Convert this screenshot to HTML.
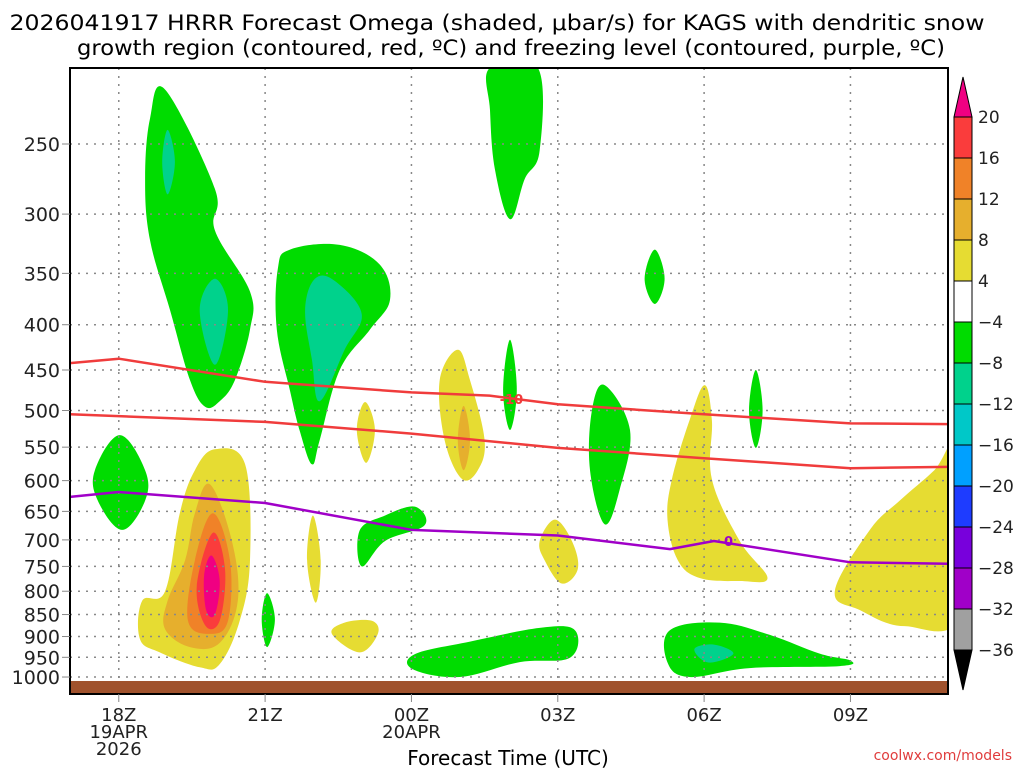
<!DOCTYPE html>
<html><head><meta charset="utf-8"><style>
html,body{margin:0;padding:0;background:#fff;}
svg{display:block;font-family:"DejaVu Sans","Liberation Sans",sans-serif;}
</style></head><body>
<svg id="chart" width="1024" height="768" viewBox="0 0 1024 768">
<text x="497" y="30" font-size="21" text-anchor="middle" textLength="975" lengthAdjust="spacingAndGlyphs" fill="#000">2026041917 HRRR Forecast Omega (shaded, μbar/s) for KAGS with dendritic snow</text>
<text x="511" y="55" font-size="21" text-anchor="middle" textLength="868" lengthAdjust="spacingAndGlyphs" fill="#000">growth region (contoured, red, ºC) and freezing level (contoured, purple, ºC)</text>
<g id="shades"></g>
<g id="grid"></g>
<g id="lines"></g>
<rect x="70" y="681" width="878" height="13" fill="#a0522d"/>
<rect x="70" y="68" width="878" height="626" fill="none" stroke="#000" stroke-width="2"/>
<g id="yaxis"></g>
<g id="xaxis"></g>
<text x="508" y="765" font-size="20" text-anchor="middle">Forecast Time (UTC)</text>
<text x="1012" y="760" font-size="14" text-anchor="end" fill="#e03c3c">coolwx.com/models</text>
<g id="cbar"></g>
</svg>
<script>
const NS="http://www.w3.org/2000/svg";
const X0=70,X1=948,Y0=68,Y1=694;
const HSTART=0,HEND=18; // hours from 17Z
const yTicks=[250,300,350,400,450,500,550,600,650,700,750,800,850,900,950,1000];
const xTickHours=[1,4,7,10,13,16];
const xTickLabels=[["18Z","19APR","2026"],["21Z"],["00Z","20APR"],["03Z"],["06Z"],["09Z"]];
const cbLabels=["20","16","12","8","4","\u22124","\u22128","\u221212","\u221216","\u221220","\u221224","\u221228","\u221232","\u221236"];
const cbColors=["#fa3c3c","#f08228","#e6af2d","#e6dc32","#ffffff","#00dc00","#00d28c","#00c8c8","#00a0ff","#1e3cff","#7800dc","#a000c8","#a0a0a0"];
const redUpperHours=[0,1,4,7,8.6,10,13,16,18];
const redUpperP=[442,437,464,477,481,492,505,517,518];
const redLowerHours=[0,4,7,10,13,16,18];
const redLowerP=[505,515,531,551,566,581,579];
const purpleHours=[0,1,4,7,10,12.3,13.2,16,18];
const purpleP=[626,618,636,682,692,717,702,742,745];
const greenBlobs=[
[[1.95,217],[2.97,281],[2.97,313],[3.69,367],[3.69,405],[3.38,462],[3.07,488],[2.77,495],[2.46,462],[2.05,385],[1.64,321],[1.54,274],[1.64,234]],
[[4.51,329],[5.53,325],[6.35,342],[6.56,375],[6.15,405],[5.53,450],[5.12,540],[4.96,575],[4.71,527],[4.51,475],[4.24,405],[4.26,346]],
[[8.61,205],[9.59,205],[9.63,254],[9.32,274],[9.02,304],[8.71,267],[8.61,229]],
[[11.99,329],[12.19,355],[11.99,379],[11.78,355]],
[[9.02,416],[9.16,474],[9.02,526],[8.88,474]],
[[10.96,468],[11.48,526],[11.27,614],[10.96,672],[10.66,584],[10.70,500]],
[[14.06,450],[14.2,500],[14.06,551],[13.92,500]],
[[1.02,533],[1.54,584],[1.54,632],[1.07,682],[0.57,632],[0.51,584]],
[[6.46,657],[7.07,642],[7.27,674],[6.46,702],[5.98,750],[5.94,683]],
[[4.04,804],[4.2,861],[4.04,925],[3.93,861]],
[[7.07,942],[8.2,912],[9.63,880],[10.35,885],[10.25,951],[9.22,962],[7.99,1000],[7.03,980]],
[[12.3,885],[13.32,868],[14.34,896],[15.37,941],[16.0,958],[15.78,972],[13.93,977],[12.7,1000],[12.25,963]]
];
const tealBlobs=[
[[2.0,241],[2.15,262],[2.0,285],[1.89,262]],
[[2.97,355],[3.24,385],[2.97,444],[2.66,385]],
[[5.02,355],[5.43,357],[5.98,389],[5.63,427],[5.12,488],[4.96,438],[4.82,385]],
[[12.8,930],[13.2,919],[13.6,941],[13.09,963]]
];
const yellowBlobs=[
[[2.97,553],[3.59,575],[3.69,738],[3.48,864],[3.07,967],[2.66,975],[1.84,938],[1.43,905],[1.48,820],[1.95,800],[2.25,653],[2.56,584]],
[[7.95,427],[8.2,462],[8.5,540],[8.36,584],[8.03,597],[7.68,540],[7.58,462]],
[[6.05,489],[6.25,526],[6.07,573],[5.88,526]],
[[4.98,657],[5.14,738],[5.04,824],[4.86,738]],
[[5.63,868],[6.19,864],[6.31,894],[5.94,938],[5.37,894]],
[[9.94,664],[10.29,702],[10.41,755],[10.08,784],[9.73,738],[9.63,702]],
[[13.01,468],[13.16,513],[13.16,598],[13.73,702],[14.3,773],[13.73,779],[12.91,773],[12.46,738],[12.25,664],[12.34,598],[12.7,513]],
[[18.3,540],[18.3,843],[17.11,876],[16.19,840],[15.68,800],[16.39,683],[17.01,632],[17.72,584]]
];
const goldBlobs=[
[[2.87,606],[3.32,702],[3.44,820],[3.07,915],[2.46,925],[1.95,883],[2.0,820],[2.36,738],[2.56,653]],
[[8.07,494],[8.2,540],[8.07,584],[7.95,540]]
];
const orangeBlobs=[[[2.93,653],[3.28,738],[3.24,864],[2.87,894],[2.42,864],[2.56,738]]];
const redBlobs=[[[2.93,687],[3.18,757],[3.07,864],[2.77,874],[2.6,789]]];
const magentaBlobs=[[[2.9,729],[3.07,778],[2.97,850],[2.79,840],[2.75,768]]];

const xS=h=>X0+(h-HSTART)/(HEND-HSTART)*(X1-X0);
const yS=p=>144+384.5*Math.log(p/250);
function mk(tag,attrs,parent){const e=document.createElementNS(NS,tag);for(const k in attrs)e.setAttribute(k,attrs[k]);parent.appendChild(e);return e;}
function smoothClosed(pts){
  const n=pts.length;let d="M"+pts[0][0].toFixed(1)+","+pts[0][1].toFixed(1);
  const t=0.18;
  for(let i=0;i<n;i++){
    const p0=pts[(i-1+n)%n],p1=pts[i],p2=pts[(i+1)%n],p3=pts[(i+2)%n];
    const c1=[p1[0]+(p2[0]-p0[0])*t,p1[1]+(p2[1]-p0[1])*t];
    const c2=[p2[0]-(p3[0]-p1[0])*t,p2[1]-(p3[1]-p1[1])*t];
    d+=" C"+c1[0].toFixed(1)+","+c1[1].toFixed(1)+" "+c2[0].toFixed(1)+","+c2[1].toFixed(1)+" "+p2[0].toFixed(1)+","+p2[1].toFixed(1);
  }
  return d+"Z";
}
const clip=mk('clipPath',{id:"plotclip"},document.getElementById('chart'));
mk('rect',{x:X0,y:Y0,width:X1-X0,height:Y1-Y0},clip);
const shades=document.getElementById('shades');
shades.setAttribute('clip-path','url(#plotclip)');
function drawBlobs(list,color,name){
  list.forEach(poly=>{
    const pts=poly.map(q=>[xS(q[0]),yS(q[1])]);
    const e=mk('path',{d:smoothClosed(pts),fill:color},shades);
    
    
  });
}
drawBlobs(greenBlobs,"#00dc00","omega-region-green");
drawBlobs(tealBlobs,"#00d28c","omega-region-teal");
drawBlobs(yellowBlobs,"#e6dc32","omega-region-yellow");
drawBlobs(goldBlobs,"#e6af2d","omega-region-gold");
drawBlobs(orangeBlobs,"#f08228","omega-region-orange");
drawBlobs(redBlobs,"#fa3c3c","omega-region-red");
drawBlobs(magentaBlobs,"#f00082","omega-region-magenta");

const grid=document.getElementById('grid'),ya=document.getElementById('yaxis'),xa=document.getElementById('xaxis');
yTicks.forEach(p=>{
  const y=yS(p);
  const l=mk('line',{x1:X0,x2:X1,y1:y,y2:y,stroke:"#888","stroke-dasharray":"2,6","stroke-width":1.5},grid);
  
  
  const t=mk('line',{x1:X0-8,x2:X0,y1:y,y2:y,stroke:"#888","stroke-width":1},ya);
  
  
  const tx=mk('text',{x:X0-10,y:y+7,"font-size":19,"text-anchor":"end",fill:"#222"},ya);
  tx.textContent=p;
  
  
});
xTickHours.forEach((h,i)=>{
  const x=xS(h);
  const l=mk('line',{x1:x,x2:x,y1:Y0,y2:Y1,stroke:"#888","stroke-dasharray":"2,6","stroke-width":1.5},grid);
  
  
  const t=mk('line',{x1:x,x2:x,y1:Y1,y2:Y1+8,stroke:"#888","stroke-width":1},xa);
  
  
  xTickLabels[i].forEach((s,j)=>{
    const tx=mk('text',{x:x,y:721+j*17,"font-size":18,"text-anchor":"middle",fill:"#222"},xa);
    tx.textContent=s;
    
    
  });
});
const lines=document.getElementById('lines');
function drawLine(hs,ps,color,name){
  const d=hs.map((h,i)=>(i?"L":"M")+xS(h).toFixed(1)+","+yS(ps[i]).toFixed(1)).join(" ");
  const e=mk('path',{d:d,fill:"none",stroke:color,"stroke-width":2.5,"stroke-linejoin":"round"},lines);
  
  
}
drawLine(redUpperHours,redUpperP,"#f03c3c","dgz-upper-contour");
drawLine(redLowerHours,redLowerP,"#f03c3c","dgz-lower-contour");
drawLine(purpleHours,purpleP,"#a000c8","freezing-level-contour");
const lbl1=mk('text',{x:xS(9.05),y:yS(485)+5,"font-size":13,"font-weight":"bold","text-anchor":"middle",fill:"#f03c3c"},lines);
lbl1.textContent="-10";


const lbl2=mk('text',{x:xS(13.5),y:yS(702)+5,"font-size":13,"font-weight":"bold","text-anchor":"middle",fill:"#a000c8"},lines);
lbl2.textContent="0";



const cb=document.getElementById('cbar');
const CX=954,CW=18,CT=117,CH=41;
const up=mk('polygon',{points:`${CX},${CT} ${CX+CW},${CT} ${CX+CW/2},${CT-40}`,fill:"#f00082",stroke:"#000"},cb);


cbColors.forEach((c,i)=>{
  const r=mk('rect',{x:CX,y:CT+i*CH,width:CW,height:CH,fill:c,stroke:"#000","stroke-width":1},cb);
  
  
});
const bot=CT+cbColors.length*CH;
const dn=mk('polygon',{points:`${CX},${bot} ${CX+CW},${bot} ${CX+CW/2},${bot+40}`,fill:"#000",stroke:"#000"},cb);


cbLabels.forEach((s,i)=>{
  const t=mk('text',{x:978,y:CT+i*CH+6,"font-size":17,fill:"#222"},cb);
  t.textContent=s;
  
  
});
</script>
</body></html>
